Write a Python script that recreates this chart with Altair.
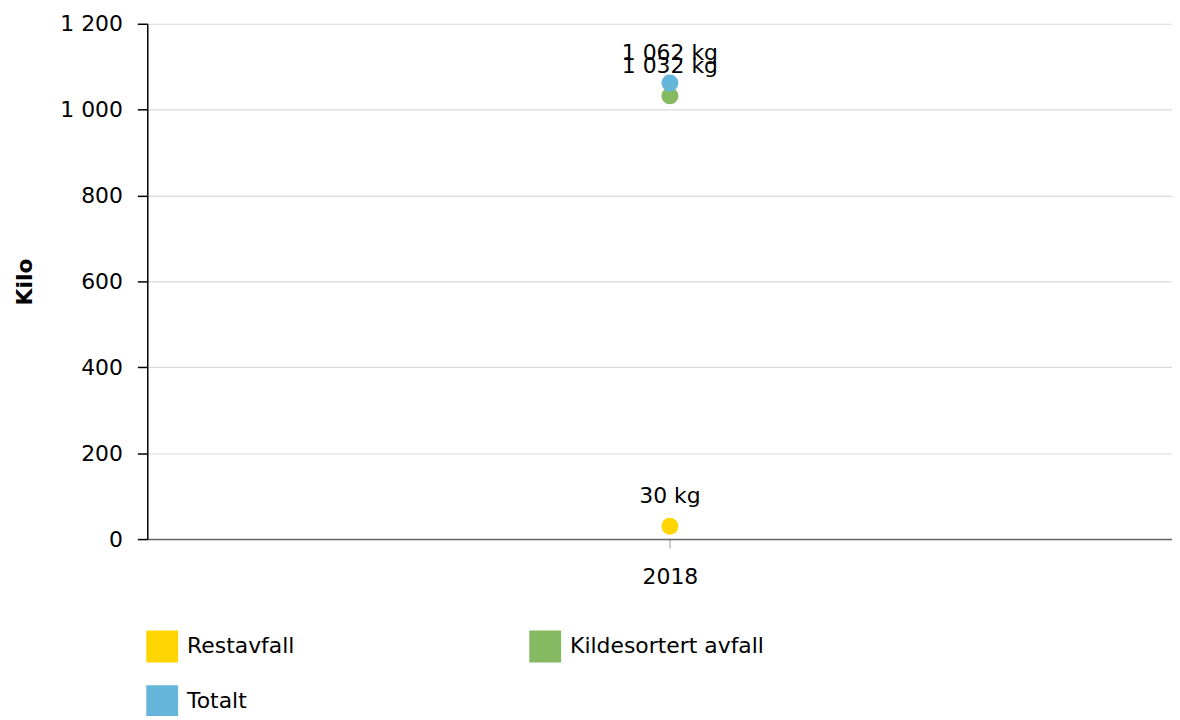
import altair as alt
import pandas as pd

years = ["2018"]
series = ["Restavfall", "Kildesortert avfall", "Totalt"]
values = [30, 1032, 1062]
colors = ["#FFD500", "#85B962", "#65B6DA"]
y_ticks = [0, 200, 400, 600, 800, 1000, 1200]


def fmt(v):
    return f"{v:,}".replace(",", " ") + " kg"


df = pd.DataFrame({
    "year": [years[0]] * len(series),
    "series": series,
    "value": values,
    "label": [fmt(v) for v in values],
    "order": list(range(len(series))),
})

FONT = "DejaVu Sans"
FS = 22

x = alt.X("year:N", title=None,
          scale=alt.Scale(type="point", align=0.51),
          axis=alt.Axis(labelAngle=0, labelFontSize=FS, labelColor="#000",
                        domainColor="#666666", domainWidth=1.5,
                        tickColor="#bbbbbb", tickSize=9, tickWidth=1.5,
                        labelPadding=19, grid=False))
y = alt.Y("value:Q", title="Kilo",
          scale=alt.Scale(domain=[0, 1200], nice=False),
          axis=alt.Axis(values=y_ticks,
                        labelExpr="replace(format(datum.value, ','), ',', ' ')",
                        labelFontSize=FS, labelColor="#000", labelPadding=15,
                        domainColor="#000", domainWidth=1.5,
                        tickColor="#000", tickSize=10, tickWidth=1.5,
                        gridColor="#d9d9d9", gridWidth=1.2,
                        titleFontSize=FS, titleFontWeight="bold",
                        titleColor="#000", titlePadding=23))

color = alt.Color("series:N",
                  scale=alt.Scale(domain=series, range=colors),
                  legend=alt.Legend(title=None, orient="none",
                                    legendX=-1, legendY=610,
                                    direction="horizontal", columns=2,
                                    symbolType="square", symbolSize=1024,
                                    symbolStrokeWidth=0, symbolOpacity=1,
                                    labelFontSize=FS, labelColor="#000",
                                    labelOffset=9, columnPadding=236,
                                    rowPadding=23, padding=0,
                                    labelLimit=400))

points = alt.Chart(df).mark_circle(size=290, opacity=1).encode(
    x=x, y=y, color=color, order=alt.Order("order:Q"))

text = alt.Chart(df).mark_text(fontSize=FS, dy=-23, baseline="alphabetic",
                               color="#000").encode(
    x="year:N", y="value:Q", text="label:N")

chart = (points + text).properties(
    width=1030, height=518,
    autosize=alt.AutoSizeParams(type="none"),
    padding={"left": 140, "top": 14, "right": 0, "bottom": 176},
).configure(font=FONT).configure_view(stroke=None)

chart.save("out.html", embed_options={"renderer": "svg", "actions": False})
